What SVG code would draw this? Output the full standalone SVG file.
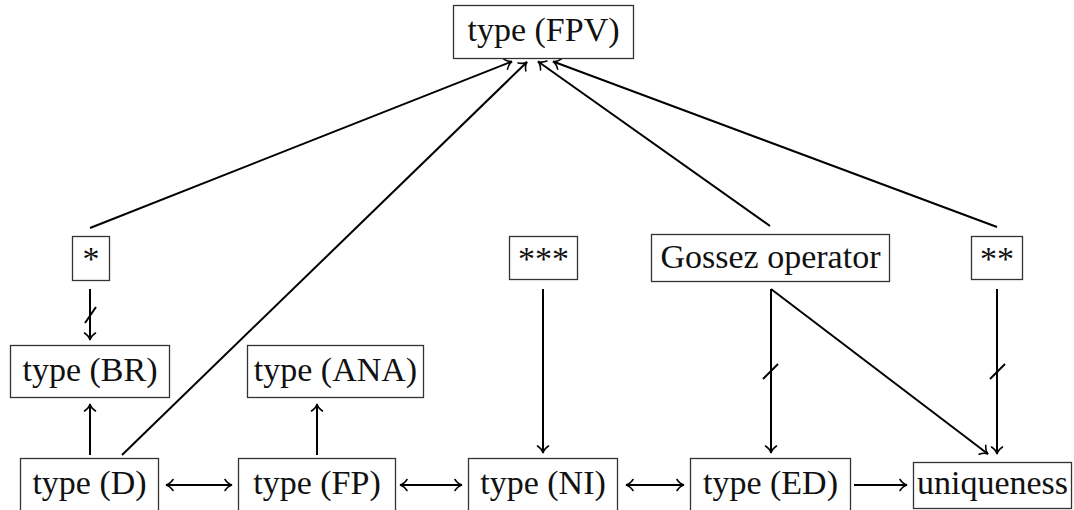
<svg xmlns="http://www.w3.org/2000/svg" width="1074" height="510" viewBox="0 0 1074 510">
<style>
.box{fill:#fff;stroke:#333;stroke-width:1.3}
.t{font-family:"Liberation Serif","Times New Roman",serif;font-size:34px;fill:#111;text-anchor:middle}
.c{stroke:#000;stroke-width:2;fill:none}
.ah{marker-end:url(#arr)}
.both{marker-start:url(#arr);marker-end:url(#arr)}
</style>
<defs>
<marker id="arr" viewBox="-9 -7 11 14" refX="0" refY="0" markerWidth="11" markerHeight="14" markerUnits="userSpaceOnUse" orient="auto-start-reverse">
<path d="M-7,-5.5 C-5,-2.5 -2.5,-0.6 0,0 C-2.5,0.6 -5,2.5 -7,5.5" fill="none" stroke="#000" stroke-width="1.6" stroke-linecap="round"/>
</marker>
</defs>
<rect width="1074" height="510" fill="#fff"/>
<g id="connectors">
<line class="c ah" x1="90" y1="228" x2="512" y2="61.5"/>
<line class="c ah" x1="122" y1="455" x2="527" y2="62"/>
<line class="c ah" x1="770" y1="226" x2="538" y2="61.5"/>
<line class="c ah" x1="997" y1="227" x2="553" y2="61.5"/>
<line class="c ah" x1="90" y1="289" x2="90" y2="340"/>
<line class="c" x1="85" y1="323" x2="96" y2="307"/>
<line class="c ah" x1="90" y1="455" x2="90" y2="404"/>
<line class="c ah" x1="317" y1="455" x2="317" y2="404"/>
<line class="c ah" x1="543" y1="289" x2="543" y2="453"/>
<line class="c ah" x1="771" y1="289" x2="771" y2="453"/>
<line class="c" x1="763" y1="379" x2="778" y2="364"/>
<line class="c ah" x1="771" y1="289" x2="988" y2="454"/>
<line class="c ah" x1="997" y1="289" x2="997" y2="454"/>
<line class="c" x1="990" y1="379" x2="1005" y2="364"/>
<line class="c both" x1="166" y1="485" x2="232" y2="485"/>
<line class="c both" x1="400" y1="485" x2="462" y2="485"/>
<line class="c both" x1="626" y1="485" x2="684" y2="485"/>
<line class="c ah" x1="854" y1="485" x2="907" y2="485"/>
</g>
<g id="fpv"><rect class="box" x="453.5" y="5.5" width="180" height="53"/><text class="t" x="543.5" y="41">type (FPV)</text></g>
<g id="star1"><rect class="box" x="72.5" y="236.5" width="37" height="44"/><text class="t" x="91" y="270">*</text></g>
<g id="star3"><rect class="box" x="509.5" y="236.5" width="68" height="43"/><text class="t" x="543.5" y="270">***</text></g>
<g id="gossez"><rect class="box" x="651.5" y="234.5" width="238" height="47"/><text class="t" x="770.5" y="268">Gossez operator</text></g>
<g id="star2"><rect class="box" x="971.5" y="236.5" width="51" height="43"/><text class="t" x="997" y="270">**</text></g>
<g id="br"><rect class="box" x="10.5" y="345.5" width="159" height="52"/><text class="t" x="90" y="381">type (BR)</text></g>
<g id="ana"><rect class="box" x="247.5" y="345.5" width="176" height="52"/><text class="t" x="335.5" y="381">type (ANA)</text></g>
<g id="d"><rect class="box" x="20.5" y="458.5" width="138" height="54"/><text class="t" x="89.5" y="494">type (D)</text></g>
<g id="fp"><rect class="box" x="238.5" y="458.5" width="157" height="54"/><text class="t" x="317" y="494">type (FP)</text></g>
<g id="ni"><rect class="box" x="468.5" y="458.5" width="149" height="54"/><text class="t" x="543" y="494">type (NI)</text></g>
<g id="ed"><rect class="box" x="690.5" y="458.5" width="160" height="54"/><text class="t" x="770.5" y="494">type (ED)</text></g>
<g id="uniq"><rect class="box" x="913.5" y="462.5" width="158" height="46"/><text class="t" x="992.5" y="494">uniqueness</text></g>
</svg>
